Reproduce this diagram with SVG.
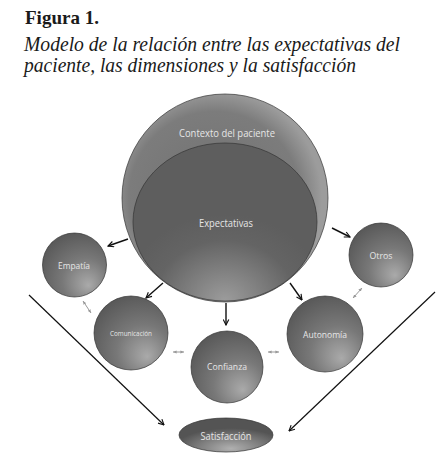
<svg xmlns="http://www.w3.org/2000/svg" width="440" height="457" viewBox="0 0 440 457">
<defs>
<style>
.ttl{font-family:"Liberation Serif",serif;fill:#1a1a1a}
.lbl{font-family:"Open Sans","Liberation Sans",sans-serif;fill:#e6e6e6;text-anchor:middle;dominant-baseline:central}
.ball{stroke:#333;stroke-width:0.7}
.blk{stroke:#111;stroke-width:1.4;fill:none;marker-end:url(#ah)}
.long{stroke:#111;stroke-width:1.2;fill:none;marker-end:url(#ah)}
.gry{stroke:#999;stroke-width:1;fill:none;marker-start:url(#gs);marker-end:url(#ge)}
</style>
<radialGradient id="gBall" cx="0.62" cy="0.68" r="0.72" fx="0.72" fy="0.82">
<stop offset="0" stop-color="#aaaaaa"/>
<stop offset="0.5" stop-color="#787878"/>
<stop offset="1" stop-color="#585858"/>
</radialGradient>
<radialGradient id="gExp" cx="0.5" cy="1" r="0.55">
<stop offset="0" stop-color="#9c9c9c"/>
<stop offset="0.7" stop-color="#646464"/>
<stop offset="1" stop-color="#5e5e5e"/>
</radialGradient>
<radialGradient id="gCtx" cx="0.45" cy="0.5" r="0.52">
<stop offset="0" stop-color="#707070"/>
<stop offset="0.8" stop-color="#7c7c7c"/>
<stop offset="1" stop-color="#9c9c9c"/>
</radialGradient>
<radialGradient id="gSat" cx="0.55" cy="0.9" r="0.6">
<stop offset="0" stop-color="#b0b0b0"/>
<stop offset="0.6" stop-color="#7a7a7a"/>
<stop offset="1" stop-color="#545454"/>
</radialGradient>
<marker id="ah" viewBox="0 0 10 10" refX="9" refY="5" markerWidth="7" markerHeight="7" orient="auto" markerUnits="userSpaceOnUse">
<path d="M1,1 L9,5 L1,9" fill="none" stroke="#111" stroke-width="1.6"/>
</marker>
<marker id="ge" viewBox="0 0 10 10" refX="9" refY="5" markerWidth="4" markerHeight="4" orient="auto" markerUnits="userSpaceOnUse">
<path d="M0,1 L9,5 L0,9 z" fill="#999"/>
</marker>
<marker id="gs" viewBox="0 0 10 10" refX="1" refY="5" markerWidth="4" markerHeight="4" orient="auto" markerUnits="userSpaceOnUse">
<path d="M10,1 L1,5 L10,9 z" fill="#999"/>
</marker>
</defs>
<rect width="440" height="457" fill="#fff"/>
<g id="title">
<text class="ttl" x="25" y="24" font-size="19" font-weight="bold" textLength="74" lengthAdjust="spacingAndGlyphs">Figura 1.</text>
<text class="ttl" x="24" y="51" font-size="20" font-style="italic" textLength="376" lengthAdjust="spacingAndGlyphs">Modelo de la relación entre las expectativas del</text>
<text class="ttl" x="24" y="72" font-size="20" font-style="italic" textLength="332" lengthAdjust="spacingAndGlyphs">paciente, las dimensiones y la satisfacción</text>
</g>
<g id="contexto">
<ellipse class="ball" cx="225" cy="198" rx="103" ry="104" fill="url(#gCtx)"/>
<text class="lbl" x="227" y="133" font-size="10" textLength="96" lengthAdjust="spacingAndGlyphs">Contexto del paciente</text>
</g>
<g id="expectativas">
<ellipse class="ball" cx="225" cy="222" rx="92" ry="79" fill="url(#gExp)"/>
<text class="lbl" x="226" y="223" font-size="10" textLength="54" lengthAdjust="spacingAndGlyphs">Expectativas</text>
</g>
<g id="empatia">
<circle class="ball" cx="74.5" cy="265" r="32" fill="url(#gBall)"/>
<text class="lbl" x="74" y="265" font-size="8.5" textLength="32" lengthAdjust="spacingAndGlyphs">Empatía</text>
</g>
<g id="comunicacion">
<circle class="ball" cx="131" cy="333" r="37" fill="url(#gBall)"/>
<text class="lbl" x="131" y="333" font-size="6.5" textLength="42" lengthAdjust="spacingAndGlyphs">Comunicación</text>
</g>
<g id="confianza">
<circle class="ball" cx="227" cy="367" r="36" fill="url(#gBall)"/>
<text class="lbl" x="227" y="366" font-size="8.5" textLength="40" lengthAdjust="spacingAndGlyphs">Confianza</text>
</g>
<g id="autonomia">
<circle class="ball" cx="325" cy="334" r="38" fill="url(#gBall)"/>
<text class="lbl" x="325" y="334" font-size="8.5" textLength="44" lengthAdjust="spacingAndGlyphs">Autonomía</text>
</g>
<g id="otros">
<circle class="ball" cx="381" cy="255" r="32" fill="url(#gBall)"/>
<text class="lbl" x="381" y="255" font-size="8.5" textLength="23" lengthAdjust="spacingAndGlyphs">Otros</text>
</g>
<g id="satisfaccion">
<ellipse class="ball" cx="226" cy="435" rx="47" ry="17" fill="url(#gSat)"/>
<text class="lbl" x="226" y="436" font-size="10" textLength="51" lengthAdjust="spacingAndGlyphs">Satisfacción</text>
</g>
<g id="connectors">
<line class="blk" x1="128" y1="239" x2="108" y2="246"/>
<line class="blk" x1="163" y1="283" x2="146" y2="298"/>
<line class="blk" x1="226" y1="303" x2="226" y2="325"/>
<line class="blk" x1="290" y1="283" x2="302" y2="300"/>
<line class="blk" x1="332" y1="228" x2="350" y2="237"/>
<line class="gry" x1="83" y1="301" x2="91" y2="313"/>
<line class="gry" x1="173" y1="352" x2="184" y2="352"/>
<line class="gry" x1="268" y1="352" x2="279" y2="352"/>
<line class="gry" x1="353" y1="298" x2="362" y2="288"/>
<line class="long" x1="29" y1="295" x2="164" y2="425"/>
<line class="long" x1="435" y1="292" x2="289" y2="431"/>
</g>
</svg>
